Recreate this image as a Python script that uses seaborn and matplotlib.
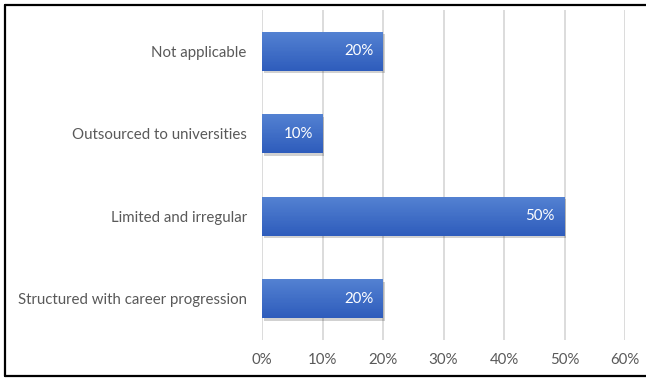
import numpy as np
import pandas as pd
import matplotlib
matplotlib.use("Agg")
import matplotlib.pyplot as plt
from matplotlib.patches import Rectangle
from matplotlib.colors import LinearSegmentedColormap
import seaborn as sns

categories = ["Not applicable", "Outsourced to universities",
              "Limited and irregular", "Structured with career progression"]
shares = [20, 10, 50, 20]
tick_values = [0, 10, 20, 30, 40, 50, 60]
tick_labels = ["0%", "10%", "20%", "30%", "40%", "50%", "60%"]

sns.set_theme(style="white")
plt.rcParams["font.family"] = ["Lato", "DejaVu Sans"]

df = pd.DataFrame({"category": categories, "share": shares})

fig = plt.figure(figsize=(6.46, 3.79), dpi=100)
ax = fig.add_axes([262 / 646, 1 - 340 / 379, (625 - 262) / 646, 330 / 379])

sns.barplot(data=df, y="category", x="share", orient="h", color="#4472C4",
            width=0.47, ax=ax, zorder=3, linewidth=0)

ax.set_xlim(0, 60)
ax.set_xticks(tick_values)
ax.set_xticklabels(tick_labels, color="#595959", fontsize=10.8)
ax.tick_params(axis="y", labelsize=10.8, labelcolor="#595959", length=0, pad=11)
ax.tick_params(axis="x", length=0, pad=9)
ax.set_xlabel("")
ax.set_ylabel("")
for s in ax.spines.values():
    s.set_visible(False)
ax.xaxis.grid(True, color="#d9d9d9", linewidth=1.3, zorder=0)
ax.set_axisbelow(True)

# gradient fill (light on top, deeper below) and soft shadow on each bar
grad = LinearSegmentedColormap.from_list("bar", ["#5482d2", "#2e5cbc"])
gimg = np.linspace(0, 1, 64).reshape(-1, 1)
for p, v in zip(ax.patches, shares):
    x0, y0 = p.get_x(), p.get_y()
    w, h = p.get_width(), p.get_height()
    shadow = Rectangle((x0 + 0.3, y0 + 0.03), w, h, facecolor="#000000",
                       alpha=0.18, edgecolor="none", zorder=2)
    ax.add_patch(shadow)
    im = ax.imshow(gimg, cmap=grad, aspect="auto", origin="upper",
                   extent=(x0, x0 + w, y0 + h, y0), zorder=3.5,
                   interpolation="bilinear")
    im.set_clip_path(p)
    ax.text(x0 + w - 1.6, y0 + h / 2, f"{v}%", color="white", fontsize=10.8,
            ha="right", va="center", zorder=5)

ax.set_ylim(3.5, -0.5)
ax.set_xlim(0, 60)

# outer frame (left, top, bottom)
frame_kw = dict(color="black", linewidth=1.6, transform=fig.transFigure)
L, T, B = 4.5 / 646, 1 - 4.5 / 379, 1 - 376 / 379
fig.add_artist(plt.Line2D([L, L], [B, T], **frame_kw))
fig.add_artist(plt.Line2D([L, 1.0], [T, T], **frame_kw))
fig.add_artist(plt.Line2D([L, 1.0], [B, B], **frame_kw))

fig.savefig("out.png", dpi=100)
